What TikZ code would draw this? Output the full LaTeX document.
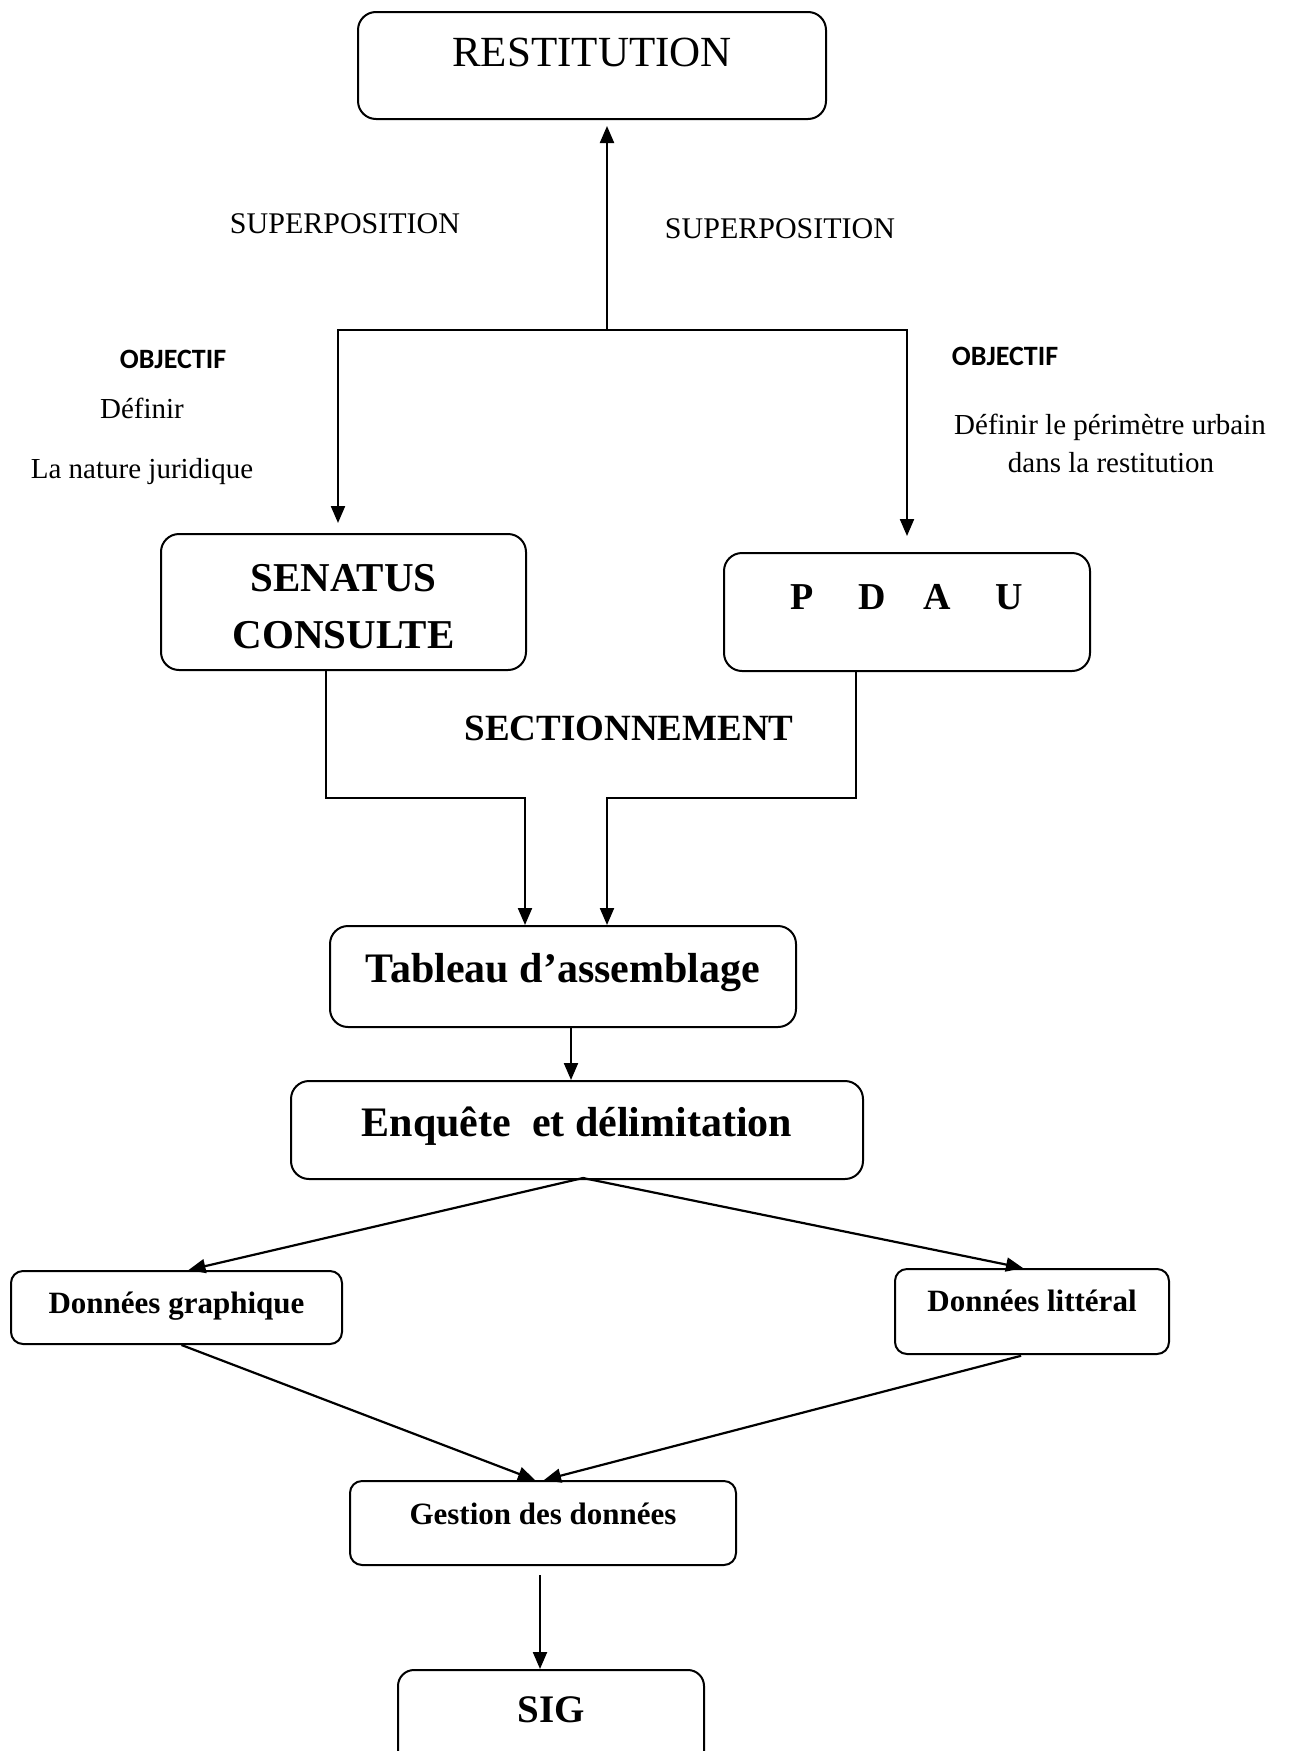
\documentclass[tikz,border=0pt]{standalone}
\usepackage{fontspec}
\setmainfont{Liberation Serif}
\newfontfamily\calibrifont{Carlito}
\usetikzlibrary{arrows.meta,calc}
\begin{document}
\begin{tikzpicture}[x=1pt,y=-1pt,
  box/.style={draw, line width=2pt, rounded corners=18pt, inner sep=0pt, anchor=north west},
  smallbox/.style={box, rounded corners=12pt},
  arr/.style={line width=2.2pt, -{Triangle[length=17pt,width=14pt]}},
  lbl/.style={anchor=base, inner sep=0pt},
  reg/.style={font=\fontsize{29}{35}\selectfont},
  objf/.style={font=\fontsize{28}{34}\selectfont\calibrifont\bfseries},
]
\useasboundingbox (0,0) rectangle (1289,1751);
\fill[white] (0,0) rectangle (1289,1751);
\clip (0,0) rectangle (1289,1751);

% boxes
\node[box, minimum width=468pt, text height=54pt, text depth=53pt, font=\fontsize{43}{50}\selectfont] (rest) at (357,11) {RESTITUTION};
\node[box, minimum width=365pt, text height=57pt, text depth=79pt, font=\fontsize{41}{57}\selectfont\bfseries] (sen) at (160,533) {\begin{tabular}[t]{@{}c@{}}SENATUS\\CONSULTE\end{tabular}};
\node[box, minimum width=366pt, text height=56pt, text depth=62pt, font=\fontsize{38}{46}\selectfont\bfseries] (pdau) at (723,552) {P\hspace{45pt}D\hspace{37pt}A\hspace{45pt}U};
\node[box, minimum width=466pt, text height=56pt, text depth=45pt, font=\fontsize{42}{50}\selectfont\bfseries] (tab) at (329,925) {Tableau d’assemblage};
\node[box, minimum width=572pt, text height=55pt, text depth=43pt, font=\fontsize{42}{50}\selectfont\bfseries] (enq) at (290,1080) {Enquête\hspace{0.5em}et délimitation};
\node[smallbox, minimum width=331pt, text height=42pt, text depth=31pt, font=\fontsize{31}{37}\selectfont\bfseries] (dg) at (10,1270) {Données graphique};
\node[smallbox, minimum width=274pt, text height=42pt, text depth=43pt, font=\fontsize{31}{37}\selectfont\bfseries] (dl) at (894,1268) {Données littéral};
\node[smallbox, minimum width=386pt, text height=43pt, text depth=41pt, font=\fontsize{31}{37}\selectfont\bfseries] (ges) at (349,1480) {Gestion des données};
\node[box, rounded corners=16pt, minimum width=306pt, text height=52pt, text depth=70pt, font=\fontsize{39}{46}\selectfont\bfseries] (sig) at (397,1669) {SIG};

% free labels
\node[lbl, font=\fontsize{30}{36}\selectfont] (sup1) at (345,233) {SUPERPOSITION};
\node[lbl, font=\fontsize{30}{36}\selectfont] (sup2) at (780,238) {SUPERPOSITION};
\node[lbl, objf] (obj1) at (173,368) {OBJECTIF};
\node[lbl, objf] (obj2) at (1005,365) {OBJECTIF};
\node[lbl, reg] (def1) at (142,418) {Définir};
\node[lbl, reg] (nat) at (142,478) {La nature juridique};
\node[lbl, reg] (def2) at (1110,434) {Définir le périmètre urbain};
\node[lbl, reg] (dans) at (1111,472) {dans la restitution};
\node[lbl, font=\fontsize{37}{44}\selectfont\bfseries] (sect) at (629,740) {SECTIONNEMENT};

% connectors
\coordinate (top) at (607,330);
\coordinate (tl) at (338,330);
\coordinate (tr) at (907,330);
\draw[arr, shorten >=6pt] (top) -- (top |- rest.south);
\draw[arr, shorten >=10pt] (top) -- (tl) -- (tl |- sen.north);
\draw[arr, shorten >=16pt] (top) -- (tr) -- (tr |- pdau.north);

\coordinate (sd) at (326,798);
\coordinate (pd) at (856,798);
\coordinate (sx) at (525,798);
\coordinate (px) at (607,798);
\draw[arr] (sen.south -| sd) -- (sd) -- (sx) -- (sx |- tab.north);
\draw[arr] (pdau.south -| pd) -- (pd) -- (px) -- (px |- tab.north);

\coordinate (te) at (571,1050);
\draw[arr] (tab.south -| te) -- (enq.north -| te);

\coordinate (ap) at (583,1178);
\draw[arr] (ap) -- ([xshift=12pt]dg.north);
\draw[arr] (ap) -- ([xshift=-9pt]dl.north);

\draw[arr] ([xshift=5pt]dg.south) -- ([xshift=-8pt]ges.north);
\draw[arr, shorten <=3pt] ([xshift=-8pt]dl.south) -- ([xshift=1pt]ges.north);

\coordinate (gs) at (540,1600);
\draw[arr, shorten <=9pt] (ges.south -| gs) -- (sig.north -| gs);
\end{tikzpicture}
\end{document}
